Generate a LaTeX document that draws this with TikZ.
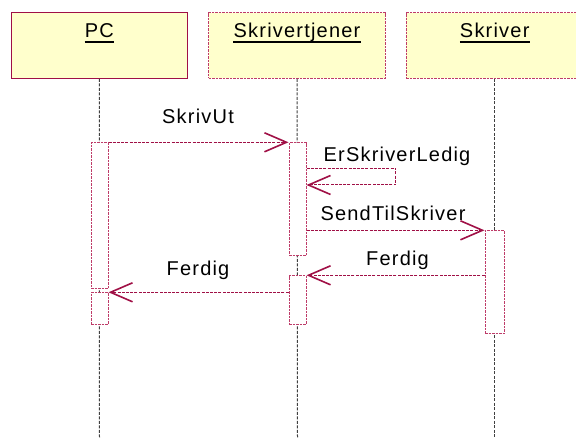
\documentclass[tikz,border=0pt]{standalone}
\usepackage{fontspec}
\setmainfont{Liberation Sans}
\usetikzlibrary{arrows.meta}
\definecolor{umlred}{RGB}{160,16,70}
\definecolor{umlpink}{RGB}{190,60,105}
\definecolor{headfill}{RGB}{255,255,204}
\begin{document}
\begin{tikzpicture}[x=1pt,y=-1pt,
  lbl/.style={font=\fontsize{20}{22}\selectfont\addfontfeature{LetterSpace=6}, inner sep=0pt, anchor=base},
  headbox/.style={draw=umlpink, fill=headfill, line width=1pt, minimum width=176.5pt, minimum height=65.6pt, inner sep=0pt},
  lifeline/.style={draw=black!75, line width=1pt, dash pattern=on 3pt off 1.5pt},
  actbox/.style={draw=umlpink, fill=white, line width=1pt, dash pattern=on 2.5pt off 1pt, minimum width=17pt, inner sep=0pt},
  msg/.style={draw=umlred, line width=1pt, dash pattern=on 3pt off 1.2pt,
    -{Straight Barb[length=22pt,width=19pt,line width=1.6pt]}},
  uline/.style={line width=1.8pt}]
\useasboundingbox (0,0) rectangle (576,438);

% object headers
\node[headbox, draw=umlred] (pc) at (99.25,45.5) {};
\node[headbox, dash pattern=on 2.5pt off 1pt] (tj) at (297,45.5) {};
\node[headbox, dash pattern=on 2.5pt off 1pt] (sk) at (494.7,45.5) {};
\node[lbl] (pcl) at (99.25,37.3) {PC};
\node[lbl] (tjl) at (297,37.3) {Skrivertjener};
\node[lbl] (skl) at (494.7,37.3) {Skriver};
\foreach \n in {pcl,tjl,skl}
  \draw[uline] ([yshift=-4.4pt]\n.base west) -- ([yshift=-4.4pt]\n.base east);

% lifelines
\coordinate (pcend) at (99.5,438);
\coordinate (tjend) at (297.5,438);
\coordinate (skend) at (494.7,438);
\draw[lifeline] (pc.south) -- (pcend);
\draw[lifeline] (tj.south) -- (tjend);
\draw[lifeline] (sk.south) -- (skend);

% activations
\node[actbox, minimum height=146pt, anchor=north] (pca1) at (99.5,142.3) {};
\node[actbox, minimum height=31.7pt, anchor=north] (pca2) at (99.5,292.3) {};
\node[actbox, minimum height=113pt, anchor=north] (tja1) at (297.5,142.3) {};
\node[actbox, minimum height=48.7pt, anchor=north] (tja2) at (297.5,275.3) {};
\node[actbox, minimum width=19pt, minimum height=103pt, anchor=north] (ska) at (494.5,230.3) {};

% self-call turning points
\coordinate (selfa) at (395.7,168.3);
\coordinate (selfb) at (395.7,185);

% messages
\draw[msg] (pca1.north east) -- (tja1.north west);
\draw[msg] (tja1.east |- selfa) -- (selfa) -- (selfb) -- (tja1.east |- selfb);
\draw[msg] (tja1.east |- ska.north) -- (ska.north west);
\draw[msg] (ska.west |- tja2.north) -- (tja2.north east);
\draw[msg] (tja2.west |- pca2.north) -- (pca2.north east);

% message labels
\node[lbl] (l1) at (198,124) {SkrivUt};
\node[lbl] (l2) at (397,161.7) {ErSkriverLedig};
\node[lbl] (l3) at (393,221) {SendTilSkriver};
\node[lbl] (l4) at (397.5,265.7) {Ferdig};
\node[lbl] (l5) at (198,275.3) {Ferdig};
\end{tikzpicture}
\end{document}
